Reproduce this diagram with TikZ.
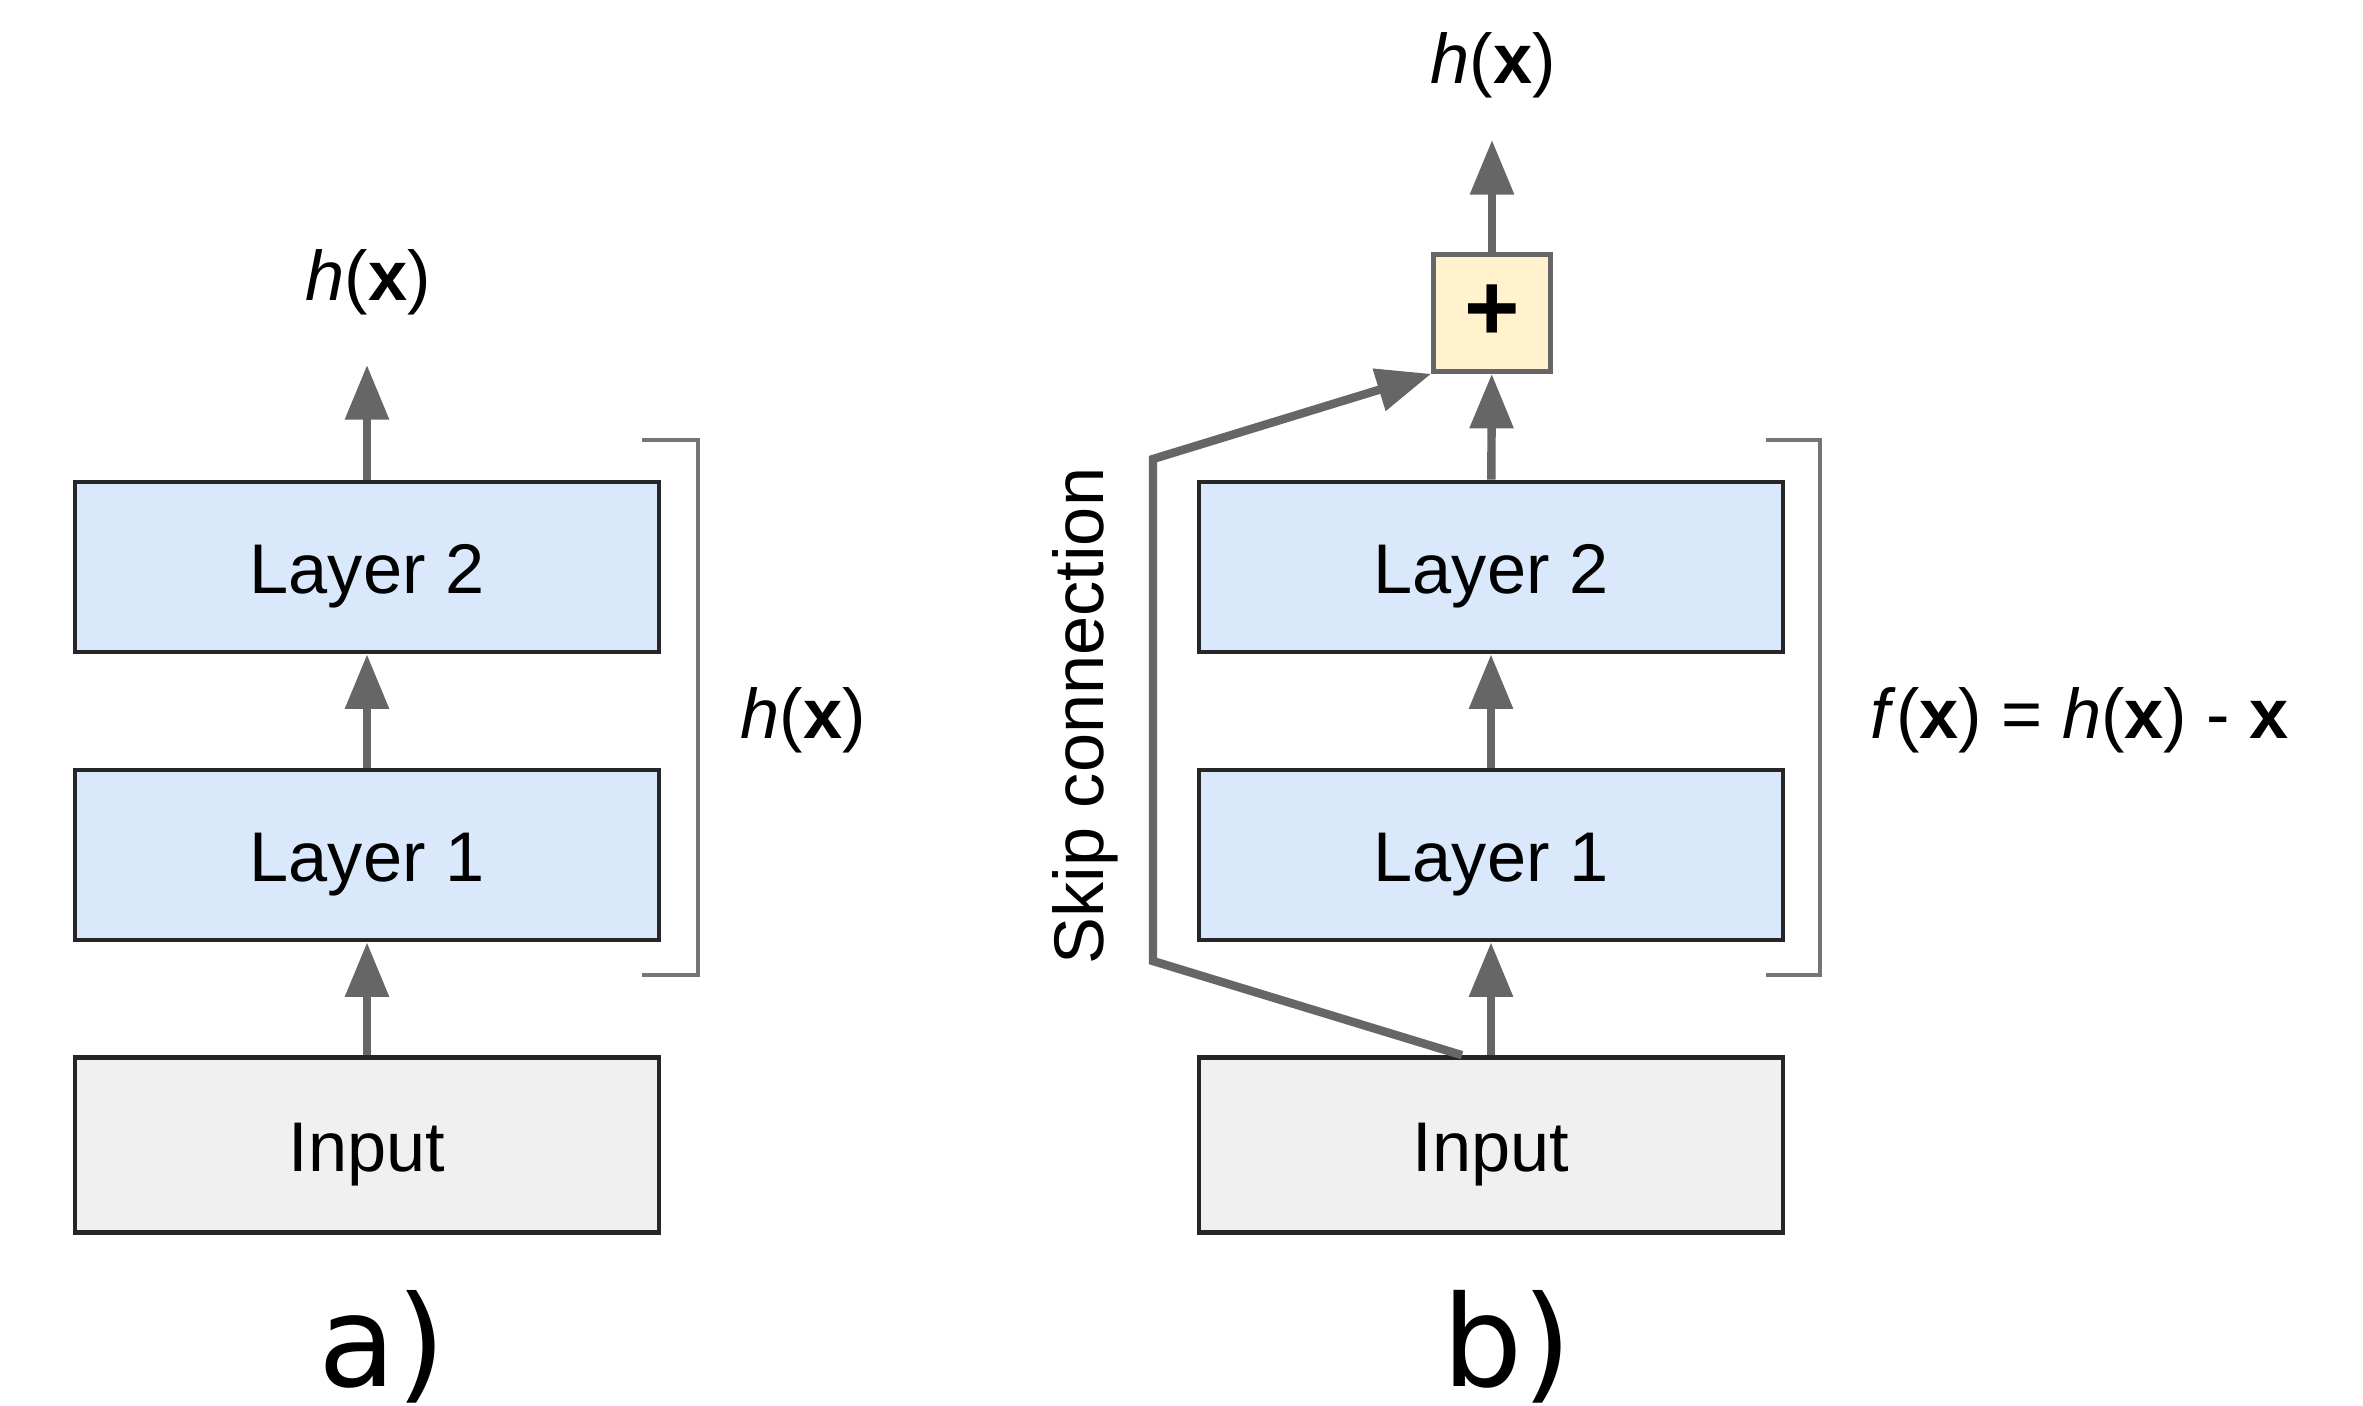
\documentclass[tikz,border=0pt]{standalone}
\usepackage{fontspec}
\setmainfont{Liberation Sans}
\newfontfamily\captionfont{DejaVu Sans}
\usetikzlibrary{arrows.meta}
\definecolor{layerblue}{HTML}{DAE8FC}
\definecolor{inputgray}{HTML}{F0F0F0}
\definecolor{sumyellow}{HTML}{FFF2CC}
\definecolor{linkgray}{HTML}{666666}

\begin{document}
\begin{tikzpicture}[x=0.01cm, y=-0.01cm,
    box/.style={draw=black!85, line width=1.3pt, minimum width=5.84cm, minimum height=1.70cm, text height=19.4pt, text depth=4.2pt, font=\fontsize{20}{24}\selectfont},
    layer/.style={box, fill=layerblue},
    inbox/.style={box, fill=inputgray, minimum height=1.75cm},
    sumbox/.style={draw=linkgray, line width=1.3pt, fill=sumyellow, minimum size=1.17cm, font=\fontsize{27}{28}\selectfont\bfseries},
    link/.style={-{Triangle[width=12pt, length=15.5pt]}, line width=2.4pt, draw=linkgray},
    brace/.style={draw=linkgray!90, line width=1.3pt},
    txt/.style={font=\fontsize{20}{24}\selectfont},
    sublbl/.style={font=\captionfont\fontsize{36}{40}\selectfont}]
    \useasboundingbox (0,0) rectangle (2363,1405);

    % a) plain stack
    \node [layer] (l2a) at (367,567) {Layer 2};
    \node [layer] (l1a) at (367,855) {Layer 1};
    \node [inbox] (ina) at (367,1145) {Input};
    \coordinate (tipa) at (367,365);
    \node [txt] (outa) at (368,282) {\textit{h}(\textbf{x})};
    \draw [link] (ina) -- (l1a);
    \draw [link] (l1a) -- (l2a);
    \draw [link] (l2a) -- (tipa);
    \draw [brace] (642,440) -- (698,440) -- (698,975) -- (642,975);
    \node [txt] (hxa) at (803,720) {\textit{h}(\textbf{x})};
    \node [sublbl] (capa) at (382,1347) {a)};

    % b) residual block
    \node [layer] (l2b) at (1491,567) {Layer 2};
    \node [layer] (l1b) at (1491,855) {Layer 1};
    \node [inbox] (inb) at (1491,1145) {Input};
    \node [sumbox] (sum) at (1492,313) {+};
    \coordinate (tipb) at (1492,140);
    \node [txt] (outb) at (1493,65) {\textit{h}(\textbf{x})};
    \draw [link] (inb) -- (l1b);
    \draw [link] (l1b) -- (l2b);
    \draw [link] (l2b) -- (sum);
    \draw [link] (sum) -- (tipb);
    \coordinate (skipbot) at (1153,961);
    \coordinate (skiptop) at (1153,459);
    \draw [link] ([xshift=-0.29cm]inb.north) -- (skipbot) -- (skiptop) -- (sum.south west);
    \node [txt, rotate=90] (skiplbl) at (1085,716) {Skip connection};
    \draw [brace] (1766,440) -- (1820,440) -- (1820,975) -- (1766,975);
    \node [txt, anchor=west] (fxb) at (1858,720) {\textit{f}(\textbf{x}) = \textit{h}(\textbf{x}) - \textbf{x}};
    \node [sublbl] (capb) at (1507,1347) {b)};
\end{tikzpicture}
\end{document}
